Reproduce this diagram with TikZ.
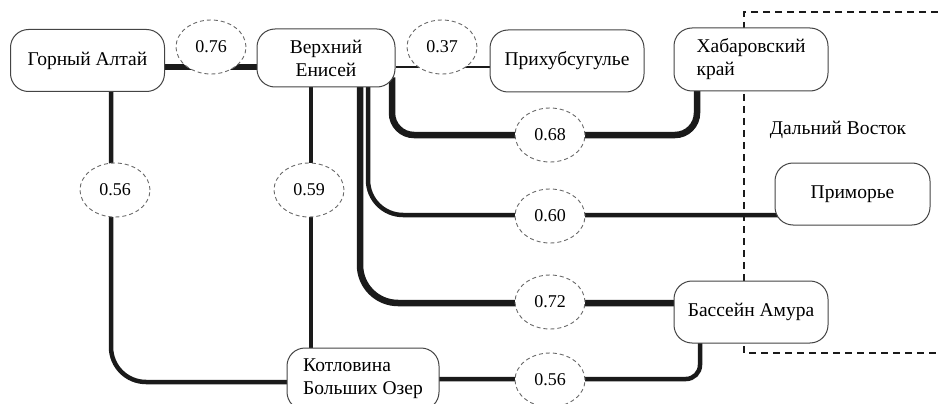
\documentclass[tikz,border=0pt]{standalone}
\usepackage{fontspec}
\setmainfont{Liberation Serif}
\usetikzlibrary{shapes.geometric,calc,backgrounds}
\definecolor{linec}{HTML}{1A1A1A}
\definecolor{boxc}{HTML}{444444}
\definecolor{ellc}{HTML}{6A6A6A}
\newcommand\regfont{\fontsize{19.5}{23}\selectfont}
\newcommand\valfont{\fontsize{18}{22}\selectfont}
\begin{document}
\begin{tikzpicture}[x=1pt,y=-1pt,
  region/.style={draw=boxc, line width=1pt, rounded corners=18pt, fill=white,
    minimum width=154pt, minimum height=62pt, inner sep=0pt, font=\regfont},
  val/.style={ellipse, draw=ellc, dash pattern=on 4pt off 3pt, line width=0.9pt,
    fill=white, minimum width=70pt, minimum height=54pt, inner sep=0pt, font=\valfont},
  link/.style={draw=linec, line cap=butt},
  zone/.style={draw=linec, line width=1.3pt, dash pattern=on 7pt off 5pt}
]
\useasboundingbox (0,0) rectangle (938,404);

% regions
\node[region] (altai) at (87.5,60.5) {Горный Алтай};
\node[region, minimum width=138pt, minimum height=58pt, align=center] (enisey) at (326,58) {Верхний\\Енисей};
\node[region] (prikh) at (567,61) {Прихубсугулье};
\node[region, align=left, minimum height=63pt] (khab) at (751,59.5) {Хабаровский\\край};
\node[region, minimum width=155pt] (prim) at (852.5,194) {Приморье};
\node[region] (amur) at (751,312) {Бассейн Амура};
\node[region, align=left, minimum width=152pt] (kotl) at (363,379) {Котловина\\Больших Озер};
\node[font=\regfont] (fe) at (838,130) {Дальний Восток};

% values
\node[val] (v076) at (211,47) {0.76};
\node[val] (v037) at (442,47) {0.37};
\node[val] (v056a) at (115,190) {0.56};
\node[val] (v059) at (309,190) {0.59};
\node[val] (v068) at (550,135) {0.68};
\node[val] (v060) at (550,216) {0.60};
\node[val] (v072) at (550,302) {0.72};
\node[val] (v056b) at (550,380) {0.56};

\begin{scope}[on background layer]
  \draw[zone] (938,12) -- (744,12) -- (744,353) -- (938,353);
  \draw[link, line width=6.5pt] ($(altai.east)+(0,6.5)$) -- ($(enisey.west)+(0,9)$);
  \draw[link, line width=2.2pt] ($(enisey.east)+(0,9)$) -- ($(prikh.west)+(0,6)$);
  \draw[link, line width=6.5pt, rounded corners=22pt]
    ($(enisey.south)+(66,-10)$) |- (v068.center) -| ($(khab.south)+(-54,-10)$);
  \draw[link, line width=4.5pt, rounded corners=35pt]
    ($(enisey.south)+(42,-10)$) |- ($(prim.west)+(10,21)$);
  \draw[link, line width=6.5pt, rounded corners=38pt]
    ($(enisey.south)+(34,-10)$) |- ($(amur.west)+(10,-9)$);
  \draw[link, line width=4pt] ($(enisey.south)+(-15,-5)$) -- ($(kotl.north)+(-52,5)$);
  \draw[link, line width=4.5pt, rounded corners=35pt]
    ($(altai.south)+(23.5,-5)$) |- ($(kotl.west)+(5,3)$);
  \draw[link, line width=4.5pt, rounded corners=14pt]
    ($(kotl.east)+(-5,0)$) -| ($(amur.south)+(-51,-5)$);
\end{scope}
\end{tikzpicture}
\end{document}
